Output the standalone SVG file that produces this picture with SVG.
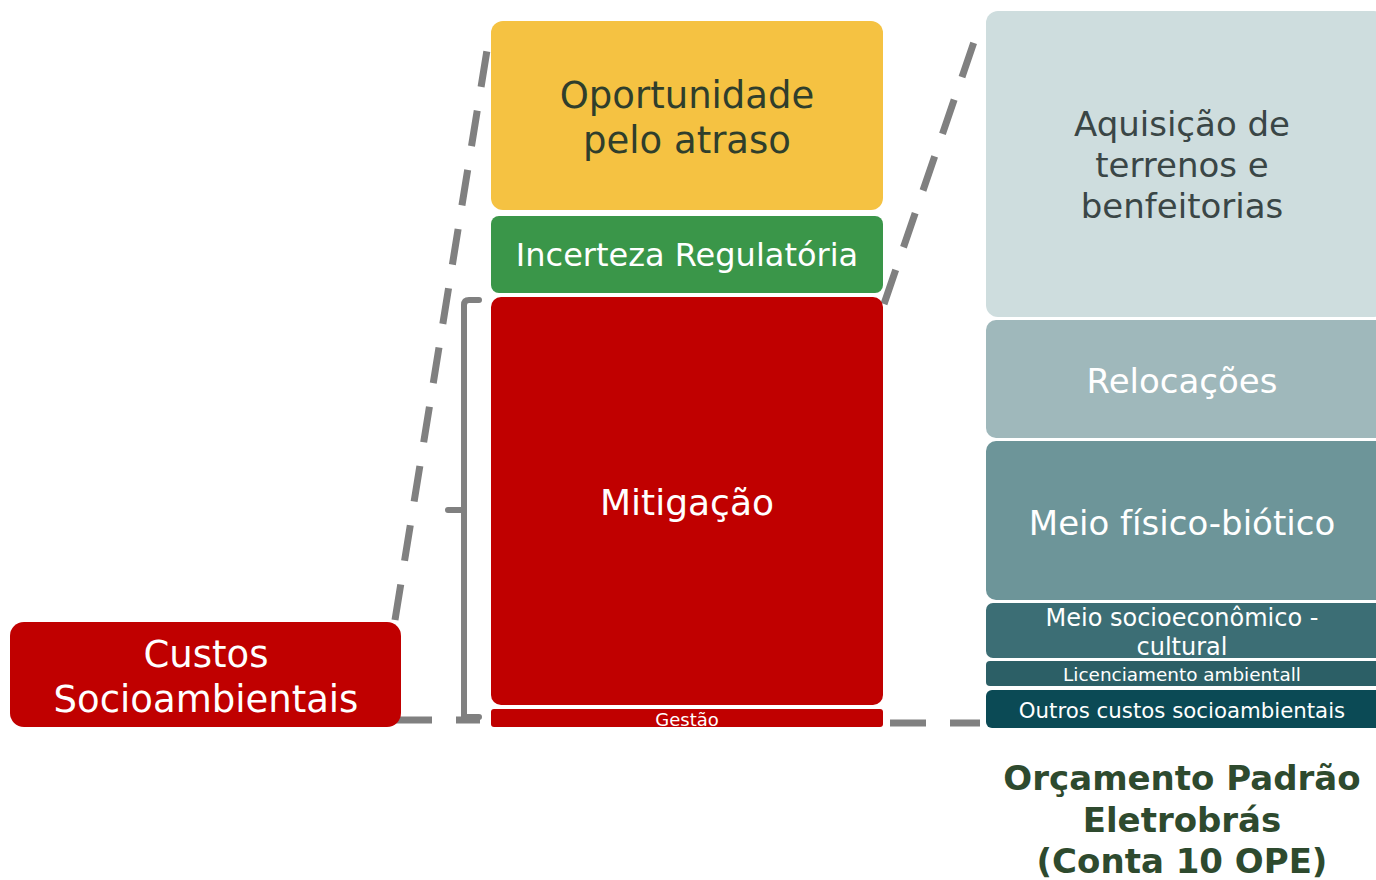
<svg xmlns="http://www.w3.org/2000/svg" width="1376" height="880" viewBox="0 0 1376 880">
<defs>
<style>
text{font-family:"DejaVu Sans","Liberation Sans",sans-serif;text-anchor:middle}
.w{fill:#FFFFFF}
.dash{stroke:#808080;stroke-width:7;fill:none;stroke-dasharray:36 24}
.br{stroke:#808080;stroke-width:6;fill:none;stroke-linecap:round;stroke-linejoin:round}
</style>
</defs>
<rect width="1376" height="880" fill="#FFFFFF"/>
<g id="connectors">
<line class="dash" x1="395" y1="620" x2="488" y2="44"/>
<line class="dash" x1="396" y1="720" x2="480" y2="720" stroke-dasharray="34 25"/>
<line class="dash" x1="884" y1="304" x2="974" y2="42"/>
<line class="dash" x1="890" y1="723" x2="980" y2="723" stroke-dasharray="33 24"/>
<path class="br" d="M479,300 L469,300 Q464,300 464,305 L464,717 L479,717 M464,510 L448,510"/>
</g>
<g id="custos">
<rect x="10" y="622" width="391" height="105" rx="14" fill="#C00000"/>
<text class="w" x="206" y="667" font-size="37">Custos</text>
<text class="w" x="206" y="712" font-size="37">Socioambientais</text>
</g>
<g id="oportunidade">
<rect x="491" y="21" width="392" height="189" rx="12" fill="#F5C242"/>
<text x="687" y="108" font-size="37" fill="#2F3E2C">Oportunidade</text>
<text x="687" y="153" font-size="37" fill="#2F3E2C">pelo atraso</text>
</g>
<g id="incerteza">
<rect x="491" y="216" width="392" height="77" rx="8" fill="#3A9649"/>
<text class="w" x="687" y="266" font-size="32">Incerteza Regulatória</text>
</g>
<g id="mitigacao">
<rect x="491" y="297" width="392" height="408" rx="10" fill="#C00000"/>
<text class="w" x="687" y="515" font-size="36">Mitigação</text>
</g>
<g id="gestao">
<rect x="491" y="709" width="392" height="18" rx="3" fill="#C00000"/>
<text class="w" x="687" y="726" font-size="18">Gestão</text>
</g>
<g id="aquisicao">
<rect x="986" y="11" width="400" height="306" rx="12" fill="#CEDDDE"/>
<text x="1182" y="136" font-size="34" fill="#3A4646">Aquisição de</text>
<text x="1182" y="177" font-size="34" fill="#3A4646">terrenos e</text>
<text x="1182" y="218" font-size="34" fill="#3A4646">benfeitorias</text>
</g>
<g id="relocacoes">
<rect x="986" y="320" width="400" height="118" rx="10" fill="#9FB8BB"/>
<text class="w" x="1182" y="393" font-size="34">Relocações</text>
</g>
<g id="meiofisico">
<rect x="986" y="441" width="400" height="159" rx="10" fill="#6D9599"/>
<text class="w" x="1182" y="535" font-size="34">Meio físico-biótico</text>
</g>
<g id="meiosocio">
<rect x="986" y="603" width="400" height="55" rx="7" fill="#3C6E75"/>
<text class="w" x="1182" y="626" font-size="24">Meio socioeconômico -</text>
<text class="w" x="1182" y="655" font-size="24">cultural</text>
</g>
<g id="licenciamento">
<rect x="986" y="661" width="400" height="25" rx="4" fill="#2C5F66"/>
<text class="w" x="1182" y="681" font-size="18.4">Licenciamento ambientall</text>
</g>
<g id="outros">
<rect x="986" y="690" width="400" height="38" rx="6" fill="#0B4A55"/>
<text class="w" x="1182" y="718" font-size="21.3">Outros custos socioambientais</text>
</g>
<g id="caption">
<text x="1182" y="790" font-size="34" font-weight="bold" fill="#2E4A2E">Orçamento Padrão</text>
<text x="1182" y="832" font-size="34" font-weight="bold" fill="#2E4A2E">Eletrobrás</text>
<text x="1182" y="873" font-size="34" font-weight="bold" fill="#2E4A2E">(Conta 10 OPE)</text>
</g>
</svg>
